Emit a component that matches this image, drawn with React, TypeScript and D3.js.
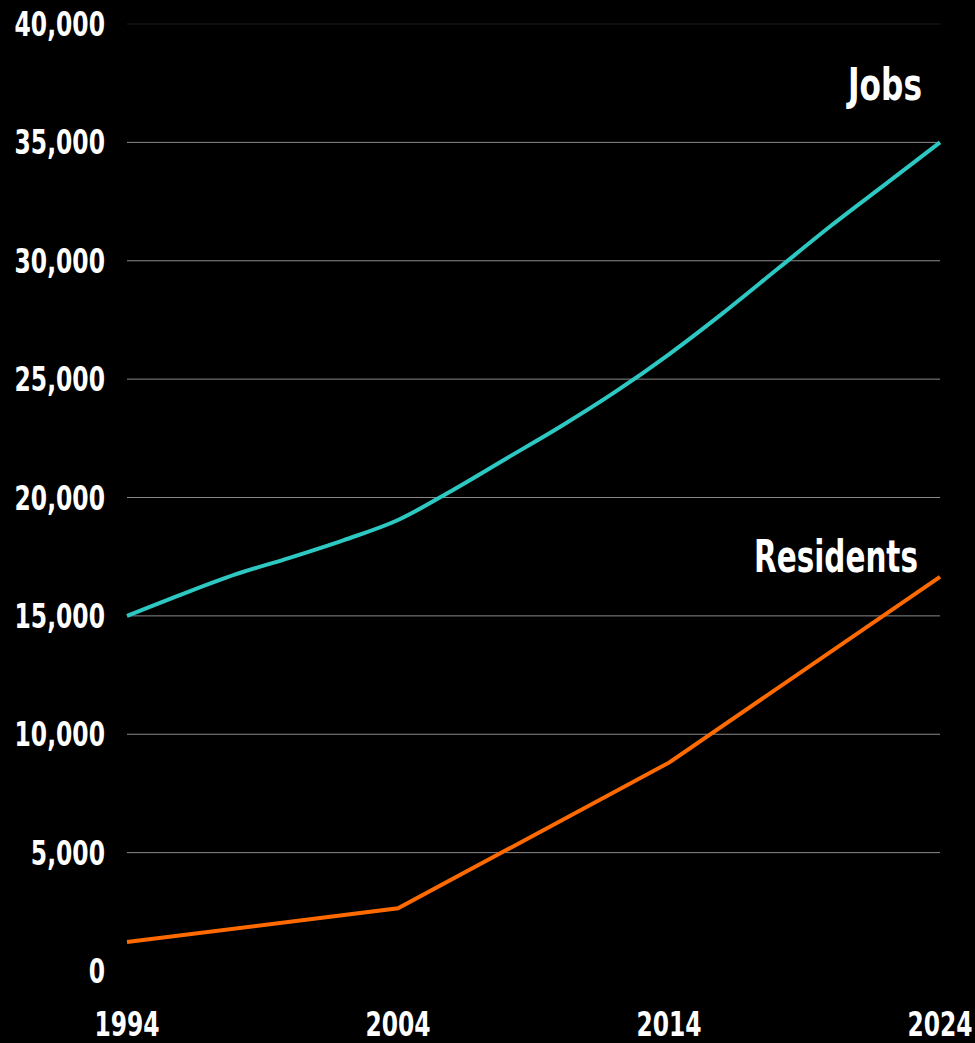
import React from "react";
import * as d3 from "d3";

const years = [1994, 1996, 1998, 2000, 2002, 2004, 2006, 2008, 2010, 2012, 2014, 2016, 2018, 2020, 2022, 2024];
const jobs = [15000, 15900, 16750, 17450, 18200, 19050, 20300, 21650, 23000, 24450, 26050, 27800, 29650, 31500, 33250, 35000];
const residentYears = [1994, 2004, 2014, 2024];
const residents = [1225, 2650, 8800, 16650];
const yTicks = [0, 5000, 10000, 15000, 20000, 25000, 30000, 35000, 40000];
const xTicks = [1994, 2004, 2014, 2024];
const seriesLabels = ["Jobs", "Residents"];

const W = 975;
const H = 1043;
const FONT = "'DejaVu Sans', Verdana, sans-serif";

function T({ x, y, anchor, size, sx, children }: { x: number; y: number; anchor: string; size: number; sx: number; children: React.ReactNode }) {
  return (
    <text
      transform={`translate(${x},${y}) scale(${sx},1)`}
      textAnchor={anchor}
      fill="#fff"
      fontFamily={FONT}
      fontWeight="bold"
      fontSize={size}
    >
      {children}
    </text>
  );
}

export default function App() {
  const x = d3.scaleLinear().domain([1994, 2024]).range([127, 940]);
  const y = d3.scaleLinear().domain([0, 40000]).range([971, 24]);
  const jobsLine = d3
    .line<[number, number]>()
    .x((d) => x(d[0]))
    .y((d) => y(d[1]))
    .curve(d3.curveMonotoneX);
  const resLine = d3
    .line<[number, number]>()
    .x((d) => x(d[0]))
    .y((d) => y(d[1]));
  const jobsPts: [number, number][] = years.map((yr, i) => [yr, jobs[i]]);
  const resPts: [number, number][] = residentYears.map((yr, i) => [yr, residents[i]]);
  const fmt = d3.format(",");
  return (
    <svg
      width={W}
      height={H}
      style={{ position: "absolute", left: 0, top: 0, background: "#000" }}
    >
      <rect width={W} height={H} fill="#000" />
      {yTicks.map((t) =>
        t > 0 ? (
          <line
            key={"g" + t}
            x1={x(1994)}
            x2={x(2024)}
            y1={y(t)}
            y2={y(t)}
            stroke={t === 40000 ? "#1c1c1c" : "#8a8a8a"}
            strokeWidth={1}
          />
        ) : null
      )}
      {yTicks.map((t) => (
        <T key={"l" + t} x={105} y={y(t) + 12} anchor="end" size={34} sx={0.69}>
          {fmt(t)}
        </T>
      ))}
      {xTicks.map((t) => (
        <T key={"x" + t} x={x(t)} y={1036} anchor="middle" size={33} sx={0.71}>
          {t}
        </T>
      ))}
      <path d={jobsLine(jobsPts) || ""} fill="none" stroke="#2ec8c2" strokeWidth={4} />
      <path d={resLine(resPts) || ""} fill="none" stroke="#ff6a00" strokeWidth={4} />
      <T x={922} y={100} anchor="end" size={44} sx={0.71}>
        {seriesLabels[0]}
      </T>
      <T x={918} y={572} anchor="end" size={44} sx={0.67}>
        {seriesLabels[1]}
      </T>
    </svg>
  );
}
